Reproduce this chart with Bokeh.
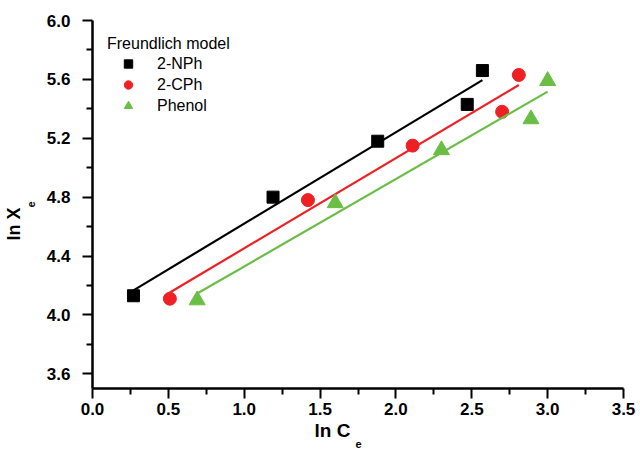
import numpy as np
from bokeh.plotting import figure
from bokeh.models import Range1d, FixedTicker, Legend, LegendItem, Title
from bokeh.embed import file_html
from bokeh.resources import INLINE

# Data
series_names = ["2-NPh", "2-CPh", "Phenol"]
x_nph = [0.27, 1.19, 1.88, 2.47, 2.57]
y_nph = [4.13, 4.80, 5.18, 5.43, 5.66]
x_cph = [0.51, 1.42, 2.11, 2.70, 2.81]
y_cph = [4.11, 4.78, 5.15, 5.38, 5.63]
x_phe = [0.69, 1.60, 2.30, 2.89, 3.00]
y_phe = [4.10, 4.76, 5.12, 5.33, 5.59]
legend_title = "Freundlich model"
x_ticks = [0.0, 0.5, 1.0, 1.5, 2.0, 2.5, 3.0, 3.5]
y_ticks = [3.6, 4.0, 4.4, 4.8, 5.2, 5.6, 6.0]

FONT = "Liberation Sans"

p = figure(width=640, height=450, output_backend="svg", toolbar_location=None,
           x_range=Range1d(0, 3.5), y_range=Range1d(3.5, 6.0),
           min_border_left=92, min_border_right=17, min_border_top=20, min_border_bottom=62)
p.outline_line_color = None
p.grid.visible = False
p.background_fill_color = "white"
p.border_fill_color = "white"

for ax in (p.xaxis[0], p.yaxis[0]):
    ax.axis_line_width = 2.5
    ax.major_tick_line_width = 2
    ax.minor_tick_line_width = 2
    ax.major_tick_in = 0
    ax.major_tick_out = 10
    ax.minor_tick_in = 0
    ax.minor_tick_out = 6
    ax.major_label_text_font = FONT
    ax.major_label_text_font_style = "bold"
    ax.major_label_text_font_size = "17px"
    ax.major_label_text_color = "black"

p.xaxis[0].ticker = FixedTicker(ticks=x_ticks, minor_ticks=[t + 0.25 for t in x_ticks[:-1]])
p.yaxis[0].ticker = FixedTicker(ticks=y_ticks, minor_ticks=[3.8, 4.2, 4.6, 5.0, 5.4, 5.8])
p.xaxis[0].major_label_standoff = 4
p.yaxis[0].major_label_standoff = 12
p.xaxis[0].major_label_overrides = {t: f"{t:.1f}" for t in x_ticks}
p.yaxis[0].major_label_overrides = {t: f"{t:.1f}" for t in y_ticks}

colors = ["#000000", "#EE2024", "#6BBE45"]
markers = ["square", "circle", "triangle"]
sizes = [12, 13, 16]
xs = [x_nph, x_cph, x_phe]
ys = [y_nph, y_cph, y_phe]

items = []
for name, xv, yv, c, m, s in zip(series_names, xs, ys, colors, markers, sizes):
    k, b = np.polyfit(xv, yv, 1)
    x0, x1 = min(xv), max(xv)
    p.line([x0, x1], [k * x0 + b, k * x1 + b], line_color=c, line_width=2.2)
    r = p.scatter(xv, yv, marker=m, size=s, fill_color=c, line_color=c)
    items.append(LegendItem(label=name, renderers=[r]))

legend = Legend(items=items, location="top_left", title=legend_title,
                margin=15, padding=0, spacing=0,
                glyph_width=42, glyph_height=21, label_height=21,
                label_standoff=8, title_standoff=-2,
                border_line_color=None, background_fill_alpha=0)
legend.label_text_font = FONT
legend.label_text_font_size = "16px"
legend.label_text_color = "black"
legend.title_text_font = FONT
legend.title_text_font_size = "16px"
legend.title_text_font_style = "normal"
legend.title_text_color = "black"
p.add_layout(legend)

# Axis titles (with subscripts) as side-panel titles
def side_title(text, size, offset, standoff):
    return Title(text=text, align="left", offset=offset, standoff=standoff,
                 text_font=FONT, text_font_style="bold", text_font_size=size,
                 text_color="black")

p.add_layout(side_title("ln C", "19px", 222, 0), "below")
p.add_layout(side_title("e", "11px", 263, -6), "below")
p.add_layout(side_title("e", "11px", 181, 18), "left")
p.add_layout(side_title("ln X", "18px", 148, -16), "left")

open("out.html", "w").write(file_html(p, INLINE))
